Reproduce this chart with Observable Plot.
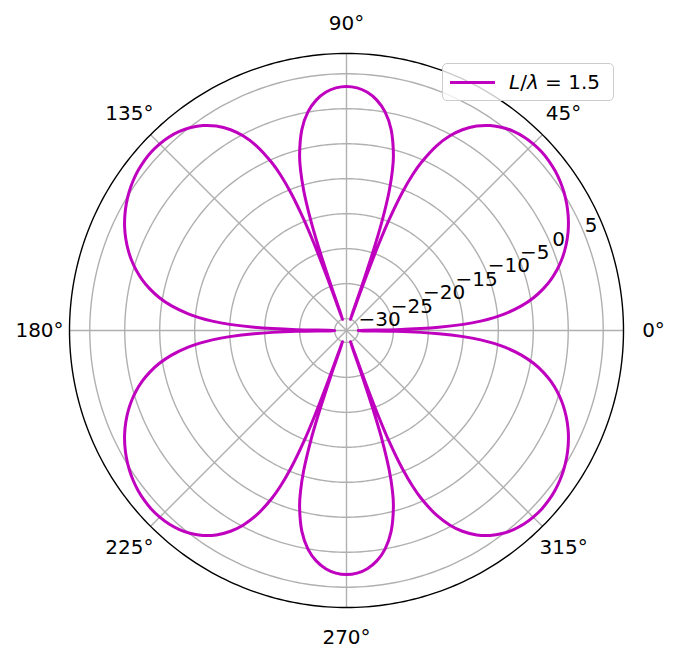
<!DOCTYPE html>
<html>
<head>
<meta charset="utf-8">
<script src="https://cdn.jsdelivr.net/npm/d3@7"></script>
<script src="https://cdn.jsdelivr.net/npm/@observablehq/plot@0.6"></script>
<style>
  body { margin: 0; background: #fff; font-family: "DejaVu Sans", sans-serif; }
  #wrap { position: relative; width: 679px; height: 662px; }
  #legend {
    position: absolute; left: 442px; top: 63px; width: 172px; height: 38px;
    box-sizing: border-box; border: 1.2px solid #cccccc; border-radius: 5px;
    background: rgba(255,255,255,0.8); display: flex; align-items: center;
    font-family: "DejaVu Sans", sans-serif; font-size: 20px; color: #000;
  }
  #legend .swatch { display: inline-block; width: 45px; height: 0; border-top: 3px solid #bf00bf; margin-left: 7px; margin-right: 14px; }
</style>
</head>
<body>
<div id="wrap"></div>
<script>
// Angles (degrees) of one quadrant of the symmetric pattern, and the gain (dB)
const quadrantAngles = [0, 0.5, 1, 2, 3, 4, 5, 6, 8, 10, 12, 14, 16, 18, 20, 22.5, 25, 27.5, 30, 32.5, 35, 37.5, 40, 42.5, 45, 47.5, 50, 52.5, 55, 57.5, 60, 62, 64, 66, 67, 68, 69, 69.5, 70, 70.25, 70.5, 70.75, 71, 71.5, 72, 73, 74, 75, 77.5, 80, 82.5, 85, 87.5, 90];
const quadrantGainDb = [-30, -30, -24.53, -18.50, -14.98, -12.47, -10.53, -8.95, -6.45, -4.50, -2.92, -1.58, -0.43, 0.58, 1.47, 2.45, 3.30, 4.02, 4.64, 5.15, 5.56, 5.86, 6.05, 6.12, 6.05, 5.84, 5.46, 4.88, 4.07, 2.95, 1.44, -0.18, -2.32, -5.42, -7.51, -10.41, -14.79, -18.23, -24.02, -29.58, -30, -30, -25.05, -18.78, -15.20, -10.77, -7.89, -5.79, -2.25, 0.03, 1.52, 2.48, 3.02, 3.20];

const radialTicks = [-30, -25, -20, -15, -10, -5, 0, 5];
const angleTicks = [0, 45, 90, 135, 180, 225, 270, 315];
const angleTickLabels = ["0°", "45°", "90°", "135°", "180°", "225°", "270°", "315°"];
const seriesName = "L/λ = 1.5";
const seriesColor = "#bf00bf";
const rMin = -31.7, rMax = 7.9;
const radialLabelAngle = 22.5;

const R = rMax - rMin;
const rad = d => d * Math.PI / 180;

// full pattern built from the symmetric quadrant readings
const n = quadrantAngles.length;
const pattern = [];
for (let i = 0; i < n; i++) pattern.push({deg: quadrantAngles[i], db: quadrantGainDb[i]});
for (let i = n - 2; i >= 0; i--) pattern.push({deg: 180 - quadrantAngles[i], db: quadrantGainDb[i]});
for (let i = 1; i < n; i++) pattern.push({deg: 180 + quadrantAngles[i], db: quadrantGainDb[i]});
for (let i = n - 2; i >= 0; i--) pattern.push({deg: 360 - quadrantAngles[i], db: quadrantGainDb[i]});

const px = (deg, db) => (db - rMin) * Math.cos(rad(deg));
const py = (deg, db) => (db - rMin) * Math.sin(rad(deg));

const circleSteps = d3.range(0, 361, 1);
const gridPts = radialTicks.flatMap(t => circleSteps.map(a => ({t, a})));
const outerPts = circleSteps.map(a => ({a}));

const fmt = t => (t < 0 ? "\u2212" + Math.abs(t) : String(t));
const labelOffset = 30 / (554 / (2 * R)); // ~30px outside the rim

const chart = Plot.plot({
  width: 679,
  height: 662,
  marginLeft: 69, marginRight: 56, marginTop: 53, marginBottom: 55,
  x: {domain: [-R, R], axis: null},
  y: {domain: [-R, R], axis: null},
  style: {fontFamily: '"DejaVu Sans", sans-serif', background: "white", overflow: "visible"},
  marks: [
    Plot.line(gridPts, {x: d => px(d.a, d.t), y: d => py(d.a, d.t), z: "t", stroke: "#b0b0b0", strokeWidth: 1.4}),
    Plot.link(angleTicks, {x1: () => 0, y1: () => 0, x2: a => R * Math.cos(rad(a)), y2: a => R * Math.sin(rad(a)), stroke: "#b0b0b0", strokeWidth: 1.4}),
    Plot.line(pattern, {x: d => px(d.deg, d.db), y: d => py(d.deg, d.db), curve: "catmull-rom", stroke: seriesColor, strokeWidth: 3, strokeLinejoin: "round", strokeLinecap: "round"}),
    Plot.line(outerPts, {x: d => R * Math.cos(rad(d.a)), y: d => R * Math.sin(rad(d.a)), stroke: "black", strokeWidth: 1.4}),
    Plot.text(radialTicks, {x: t => px(radialLabelAngle, t), y: t => py(radialLabelAngle, t), text: fmt, textAnchor: "start", lineAnchor: "bottom", dx: 1, fontSize: 20, fill: "black"}),
    Plot.text(angleTicks, {x: a => (R + labelOffset) * Math.cos(rad(a)), y: a => (R + labelOffset) * Math.sin(rad(a)), text: (a, i) => angleTickLabels[i], textAnchor: "middle", lineAnchor: "middle", fontSize: 20, fill: "black"})
  ]
});

const wrap = document.getElementById("wrap");
wrap.appendChild(chart);
const legend = document.createElement("div");
legend.id = "legend";
const sw = document.createElement("span");
sw.className = "swatch";
legend.appendChild(sw);
const lab = document.createElement("span");
lab.innerHTML = seriesName.replace("L", "<i>L</i>").replace("λ", "<i>λ</i>");
legend.appendChild(lab);
wrap.appendChild(legend);
</script>
</body>
</html>
